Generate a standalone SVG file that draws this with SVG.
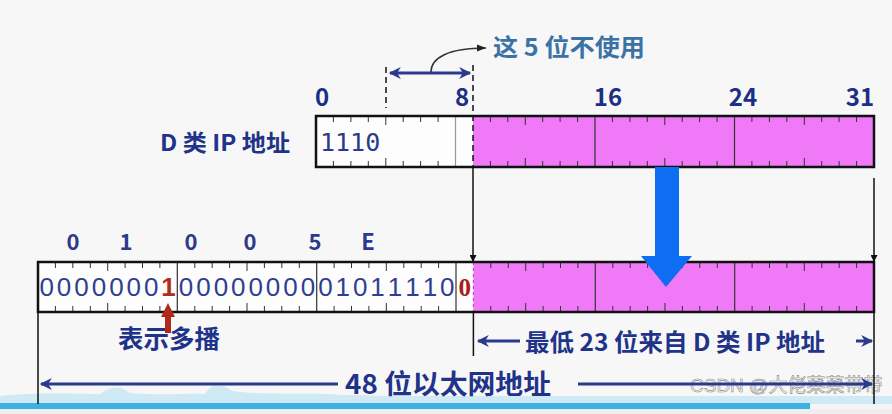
<svg xmlns="http://www.w3.org/2000/svg" width="892" height="414" viewBox="0 0 892 414">
<defs>
<style>
.t{font-family:"Noto Sans CJK SC","Liberation Sans",sans-serif;font-weight:bold;fill:#1f3489}
.num{font-family:"Noto Sans CJK SC","Liberation Sans",sans-serif;font-weight:bold;fill:#1c2f85;font-size:24px;text-anchor:middle}
.hex{font-family:"Noto Sans CJK SC","Liberation Sans",sans-serif;font-weight:bold;fill:#2b3a8c;font-size:22px;text-anchor:middle}
.bits{font-family:"Liberation Sans",sans-serif;fill:#2f3f90;font-size:26px;text-anchor:middle}
.bar{fill:none;stroke:#111;stroke-width:2.5}
.tick{fill:none;stroke:#333;stroke-width:1}
.blk{fill:none;stroke:#111;stroke-width:1.5}
.nav{fill:none;stroke:#2b3a8c;stroke-width:3}
</style>
<marker id="ab" viewBox="0 0 10 10" refX="10" refY="5" markerWidth="7" markerHeight="7" orient="auto" markerUnits="userSpaceOnUse"><path d="M0,0 L10,5 L0,10 z" fill="#111"/></marker>
<marker id="an" viewBox="0 0 10 10" refX="9" refY="5" markerWidth="16" markerHeight="12" orient="auto-start-reverse" markerUnits="userSpaceOnUse"><path d="M0,0 L10,5 L0,10 L3,5 z" fill="#2b3a8c"/></marker>
<marker id="ac" viewBox="0 0 10 10" refX="10" refY="5" markerWidth="10" markerHeight="9" orient="auto" markerUnits="userSpaceOnUse"><path d="M0,1 L10,5 L0,9 z" fill="#222"/></marker>
</defs>
<rect width="892" height="414" fill="#f4f4f4"/>
<rect x="0" y="0" width="892" height="400" fill="#f7f7f7"/>

<!-- bottom decoration -->
<path d="M0,396 C40,392 80,394 100,394 C110,386 120,385 130,393 C160,396 190,393 205,394 C210,384 222,383 232,391 C260,395 300,393 330,394 C345,396 360,394 380,396 L892,396 L892,404 L0,404 z" fill="#cfe9f5"/>
<rect x="0" y="403" width="810" height="6" fill="#3db0e4"/>
<rect x="0" y="409" width="892" height="5" fill="#eeeeee"/>

<!-- top ip label -->
<g id="label-d">
<text class="t" x="160" y="151" font-size="23" textLength="130" lengthAdjust="spacingAndGlyphs">D 类 IP 地址</text>
</g>
<g id="top-numbers">
<text class="num" x="322" y="106">0</text>
<text class="num" x="462" y="106">8</text>
<text class="num" x="608" y="106">16</text>
<text class="num" x="743" y="106">24</text>
<text class="num" x="860" y="106">31</text>
</g>
<g id="note-5bits">
<text class="t" x="493" y="56" font-size="24" style="fill:#3b72a6" textLength="152" lengthAdjust="spacingAndGlyphs">这 5 位不使用</text>
</g>

<!-- top bar -->
<g id="ip-bar">
<rect x="316" y="116" width="558" height="51" fill="#fdfdfd"/>
<rect x="473" y="116" width="401" height="51" fill="#ef79f6"/>
<path class="tick" d="M333.4,116v6M350.9,116v6M368.3,116v6M385.8,116v9M403.2,116v6M420.6,116v6M438.1,116v6M490.4,116v6M507.8,116v6M525.3,116v9M542.7,116v6M560.1,116v6M577.6,116v6M612.4,116v6M629.9,116v6M647.3,116v6M664.8,116v9M682.2,116v6M699.6,116v6M717.1,116v6M751.9,116v6M769.4,116v6M786.8,116v6M804.3,116v9M821.7,116v6M839.1,116v6M856.6,116v6
M333.4,167v-6M350.9,167v-6M368.3,167v-6M385.8,167v-9M403.2,167v-6M420.6,167v-6M438.1,167v-6M490.4,167v-6M507.8,167v-6M525.3,167v-9M542.7,167v-6M560.1,167v-6M577.6,167v-6M612.4,167v-6M629.9,167v-6M647.3,167v-6M664.8,167v-9M682.2,167v-6M699.6,167v-6M717.1,167v-6M751.9,167v-6M769.4,167v-6M786.8,167v-6M804.3,167v-9M821.7,167v-6M839.1,167v-6M856.6,167v-6"/>
<path d="M455.5,116V167" stroke="#999" stroke-width="1.2"/>
<path d="M595,116V167M734.5,116V167" stroke="#333" stroke-width="1.2"/>
<rect class="bar" x="316" y="116" width="558" height="51"/>
<text x="320" y="151" font-family="'DejaVu Sans Mono','Liberation Mono',monospace" font-size="25" fill="#2b3a8c">1110</text>
</g>

<!-- lower bar -->
<g id="mac-bar">
<rect x="38" y="262" width="836" height="50" fill="#fdfdfd"/>
<rect x="473.4" y="262" width="400.6" height="50" fill="#ef79f6"/>
<path class="tick" d="M55.4,262v6M72.8,262v6M90.3,262v6M107.7,262v9M125.1,262v6M142.5,262v6M159.9,262v6M194.8,262v6M212.2,262v6M229.6,262v6M247,262v9M264.4,262v6M281.8,262v6M299.3,262v6M334.1,262v6M351.5,262v6M368.9,262v6M386.3,262v9M403.8,262v6M421.2,262v6M438.6,262v6M490.8,262v6M508.3,262v6M525.7,262v9M543.1,262v6M560.5,262v6M577.9,262v6M612.8,262v6M630.2,262v6M647.6,262v6M665,262v9M682.4,262v6M699.8,262v6M717.3,262v6M752.1,262v6M769.5,262v6M786.9,262v6M804.3,262v9M821.8,262v6M839.2,262v6M856.6,262v6
M55.4,312v-6M72.8,312v-6M90.3,312v-6M107.7,312v-9M125.1,312v-6M142.5,312v-6M159.9,312v-6M194.8,312v-6M212.2,312v-6M229.6,312v-6M247,312v-9M264.4,312v-6M281.8,312v-6M299.3,312v-6M334.1,312v-6M351.5,312v-6M368.9,312v-6M386.3,312v-9M403.8,312v-6M421.2,312v-6M438.6,312v-6M490.8,312v-6M508.3,312v-6M525.7,312v-9M543.1,312v-6M560.5,312v-6M577.9,312v-6M612.8,312v-6M630.2,312v-6M647.6,312v-6M665,312v-9M682.4,312v-6M699.8,312v-6M717.3,312v-6M752.1,312v-6M769.5,312v-6M786.9,312v-6M804.3,312v-9M821.8,312v-6M839.2,312v-6M856.6,312v-6"/>
<path d="M177.3,262V312M316.7,262V312M456,262V312M595.3,262V312M734.7,262V312" stroke="#333" stroke-width="1.2"/>
<path d="M473.4,262V312" stroke="#c050c0" stroke-width="1.2" stroke-dasharray="3,3"/>
<rect class="bar" x="38" y="262" width="836" height="50"/>
<text class="bits" y="296" x="46.7 64.1 81.5 99 116.4 133.8 151.2">0000000</text>
<text x="168.6" y="296" font-family="'Liberation Sans',sans-serif" font-size="26" font-weight="bold" fill="#b22d1e" text-anchor="middle">1</text>
<text class="bits" y="296" x="186 203.5 220.9 238.3 255.7 273.1 290.5 308">00000000</text>
<text class="bits" y="296" x="325.4 342.8 360.2 377.6 395 412.5 429.9 447.3">01011110</text>
<text x="464.7" y="296" font-family="'Liberation Serif',serif" font-size="25" font-weight="bold" fill="#a8201a" text-anchor="middle">0</text>
</g>
<g id="hex-labels">
<text class="hex" x="73" y="250">0</text>
<text class="hex" x="126" y="250">1</text>
<text class="hex" x="191" y="250">0</text>
<text class="hex" x="250" y="250">0</text>
<text class="hex" x="315" y="250">5</text>
<text class="hex" x="368" y="250">E</text>
</g>
<g id="label-multicast">
<text class="t" x="118" y="348" font-size="25" textLength="102" lengthAdjust="spacingAndGlyphs">表示多播</text>
</g>
<g id="label-low23">
<text class="t" x="525" y="351" font-size="24" textLength="300" lengthAdjust="spacingAndGlyphs">最低 23 位来自 D 类 IP 地址</text>
</g>
<g id="label-48">
<text class="t" x="345" y="394" font-size="27" textLength="206" lengthAdjust="spacingAndGlyphs">48 位以太网地址</text>
</g>
<g id="watermark">
<text x="690" y="392" font-family="'Liberation Sans','Noto Sans CJK SC',sans-serif" font-size="19" fill="#ffffff" stroke="#8a8a8a" stroke-width="0.6">CSDN @大佬菜菜带带</text>
</g>

<!-- connectors -->
<g id="connectors">
<path class="blk" d="M386,67V108" stroke-dasharray="6,4"/>
<path class="blk" d="M473,65V167" stroke-dasharray="6,4"/>
<path class="blk" d="M473,167V262" marker-end="url(#ab)"/>
<path class="blk" d="M874,178V262" marker-end="url(#ab)"/>
<path class="nav" d="M390,73H470" marker-start="url(#an)" marker-end="url(#an)"/>
<path d="M431,72 C431,58 448,48 486,48" fill="none" stroke="#333" stroke-width="1.5" marker-end="url(#ac)"/>
<polygon points="655,167 679,167 679,256 692,256 666,287 641,256 655,256" fill="#0d6ef2"/>
<polygon points="168,303 175,317 171,317 171,333 165,333 165,317 161,317" fill="#b02a1a"/>
<path class="blk" d="M38,312V404M473.4,312V356M874,312V404"/>
<path class="nav" d="M520,341H478" marker-end="url(#an)"/>
<path class="nav" d="M856,341H872" marker-end="url(#an)"/>
<path class="nav" d="M338,384H41" marker-end="url(#an)"/>
<path class="nav" d="M578,384H872" marker-end="url(#an)"/>
</g>
</svg>
